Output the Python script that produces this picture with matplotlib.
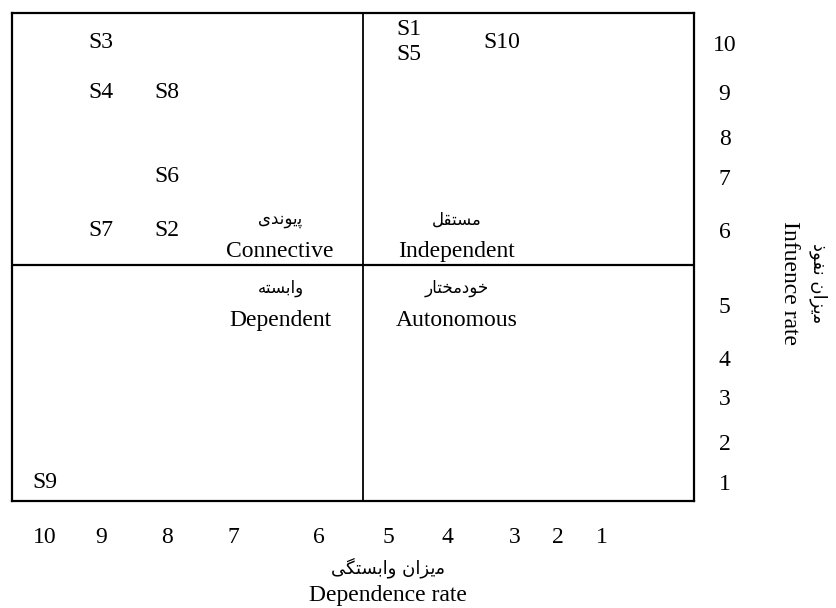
import numpy as np
import matplotlib.pyplot as plt

plt.rcParams['font.family'] = ['Liberation Serif', 'DejaVu Sans']

# factors: (name, dependence, influence)
factors = ['S1', 'S2', 'S3', 'S4', 'S5', 'S6', 'S7', 'S8', 'S9', 'S10']
dependence = [4.65, 8, 9, 9, 4.65, 8, 9, 8, 10, 3.2]
influence = [10.27, 6, 10, 9, 9.76, 7, 6, 9, 1, 10]

dep_ticks = [10, 9, 8, 7, 6, 5, 4, 3, 2, 1]
inf_ticks = [1, 2, 3, 4, 5, 6, 7, 8, 9, 10]

# the table the chart comes from is not evenly spaced, so the axes use a
# piecewise scale through the printed tick positions (pixels of the page)
dep_anchor = [-1.1, 1, 2, 3, 4, 5, 6, 7, 8, 9, 10, 10.6]
dep_px = [694, 602, 558, 515, 447, 388, 319, 233, 167, 101, 45, 12]
inf_anchor = [0.52, 1, 2, 3, 4, 5, 6, 7, 8, 9, 10, 10.61]
inf_px = [501, 482, 442, 397, 358, 305, 230, 177, 137, 92, 43, 13]


def persian(chars):
    # letters given already in their joined forms, logical order -> visual
    return ''.join(chars)[::-1]


connective_fa = persian(['\ufb58', '\ufbfe', '\ufeee', '\ufee7', '\ufeaa', '\ufbfc'])
independent_fa = persian(['\ufee3', '\ufeb4', '\ufe98', '\ufed8', '\ufede'])
dependent_fa = persian(['\ufeed', '\ufe8d', '\ufe91', '\ufeb4', '\ufe98', '\ufeea'])
autonomous_fa = persian(['\ufea7', '\ufeee', '\ufea9', '\ufee3', '\ufea8', '\ufe98', '\ufe8e', '\ufead'])
dep_rate_fa = persian(['\ufee3', '\ufbfe', '\ufeb0', '\ufe8d', '\ufee5', ' ',
                       '\ufeed', '\ufe8d', '\ufe91', '\ufeb4', '\ufe98', '\ufb95', '\ufbfd'])
inf_rate_fa = persian(['\ufee3', '\ufbfe', '\ufeb0', '\ufe8d', '\ufee5', ' ',
                       '\ufee7', '\ufed4', '\ufeee', '\ufeab'])


def x_fwd(v):
    return -np.interp(v, dep_anchor, dep_px)


def x_inv(t):
    return np.interp(-t, dep_px[::-1], dep_anchor[::-1])


def y_fwd(v):
    return -np.interp(v, inf_anchor, inf_px)


def y_inv(t):
    return np.interp(-t, inf_px[::-1], inf_anchor[::-1])


fig = plt.figure(figsize=(8.37, 6.08), dpi=100)
ax = fig.add_axes([12 / 837, 107 / 608, 682 / 837, 488 / 608])
ax.set_xscale('function', functions=(x_fwd, x_inv))
ax.set_yscale('function', functions=(y_fwd, y_inv))
ax.set_xlim(10.6, -1.1)
ax.set_ylim(0.52, 10.61)

for sp in ax.spines.values():
    sp.set_linewidth(1.6)
ax.axvline(5.36, color='black', linewidth=1.3)
ax.axhline(5.53, color='black', linewidth=1.6)

for name, d, i in zip(factors, dependence, influence):
    ax.text(d, i, name, ha='center', va='center', fontsize=17)

ax.set_xticks(dep_ticks)
ax.set_xticklabels([str(t) for t in dep_ticks])
ax.set_yticks(inf_ticks)
ax.set_yticklabels([str(t) for t in inf_ticks])
ax.xaxis.set_minor_locator(plt.NullLocator())
ax.yaxis.set_minor_locator(plt.NullLocator())
ax.yaxis.tick_right()
ax.tick_params(axis='x', length=0, pad=19, labelsize=17)
ax.tick_params(axis='y', length=0, pad=22, labelsize=17)
for lab in ax.get_yticklabels():
    lab.set_ha('center')

# quadrant names
fa = dict(ha='center', va='center', fontsize=12, family='DejaVu Sans', transform=ax.transAxes)
en = dict(ha='center', va='center', fontsize=17, transform=ax.transAxes)
ax.text(0.393, 0.577, connective_fa, **fa)
ax.text(0.393, 0.512, 'Connective', **en)
ax.text(0.652, 0.577, independent_fa, **fa)
ax.text(0.652, 0.512, 'Independent', **en)
ax.text(0.395, 0.436, dependent_fa, **fa)
ax.text(0.393, 0.370, 'Dependent', **en)
ax.text(0.652, 0.436, autonomous_fa, **fa)
ax.text(0.652, 0.370, 'Autonomous', **en)

# axis titles
fig.text(388 / 837, 1 - 568 / 608, dep_rate_fa, ha='center', va='center',
         fontsize=13, family='DejaVu Sans')
fig.text(388 / 837, 1 - 596 / 608, 'Dependence rate', ha='center', va='center', fontsize=17)
fig.text(818 / 837, 1 - 283 / 608, inf_rate_fa, ha='center', va='center',
         fontsize=13, family='DejaVu Sans', rotation=-90)
fig.text(790 / 837, 1 - 283 / 608, 'Infuence rate', ha='center', va='center',
         fontsize=17, rotation=-90)

fig.savefig('out.png', dpi=100)
